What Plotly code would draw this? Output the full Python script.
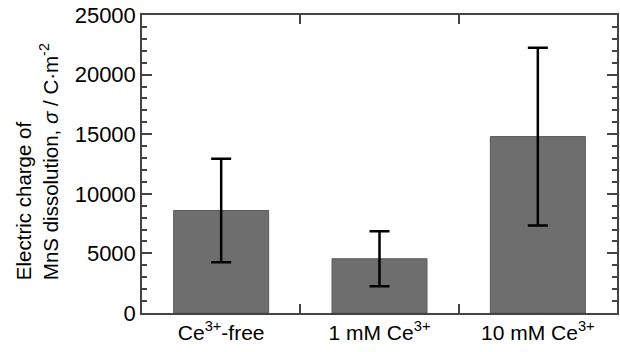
import plotly.graph_objects as go

categories = ["Ce<sup>3+</sup>-free", "1 mM Ce<sup>3+</sup>", "10 mM Ce<sup>3+</sup>"]
values = [8600, 4550, 14800]
errors = [4350, 2300, 7450]
y_ticks = [0, 5000, 10000, 15000, 20000, 25000]

fig = go.Figure()
fig.add_trace(go.Bar(
    x=categories, y=values, width=0.6,
    marker=dict(color="#6e6e6e", line=dict(color="#5a5a5a", width=1)),
    error_y=dict(type="data", array=errors, visible=True, color="black", thickness=2.5, width=10),
))

font_family = "Liberation Sans, Arial, sans-serif"
fig.update_layout(
    width=620, height=352,
    margin=dict(l=142, r=1, t=15, b=39),
    plot_bgcolor="white", paper_bgcolor="white",
    showlegend=False,
    font=dict(family=font_family, size=21, color="black"),
    bargap=0.4,
)
fig.update_xaxes(
    type="category", showline=True, linecolor="#444", linewidth=1.5, mirror="allticks",
    ticks="inside", tickson="boundaries", ticklen=9, tickcolor="#444", tickwidth=1.5,
    tickfont=dict(size=21), showgrid=False,
)
fig.update_yaxes(
    range=[0, 25000], tickvals=y_ticks, ticktext=[str(v) for v in y_ticks],
    showline=True, linecolor="#444", linewidth=1.5, mirror="allticks",
    ticks="inside", ticklen=10, tickcolor="#444", tickwidth=1.5,
    minor=dict(dtick=1000, ticks="inside", ticklen=5, tickcolor="#444", tickwidth=1.5),
    tickfont=dict(size=22), showgrid=False, zeroline=False,
)
fig.add_annotation(
    text="Electric charge of<br>MnS dissolution, <i>σ</i> / C·m<sup>-2</sup>",
    xref="paper", yref="paper", x=-0.222, y=0.508, xanchor="center", yanchor="middle",
    textangle=-90, showarrow=False, font=dict(size=20.5), align="left",
)

fig.write_html("out.html")
